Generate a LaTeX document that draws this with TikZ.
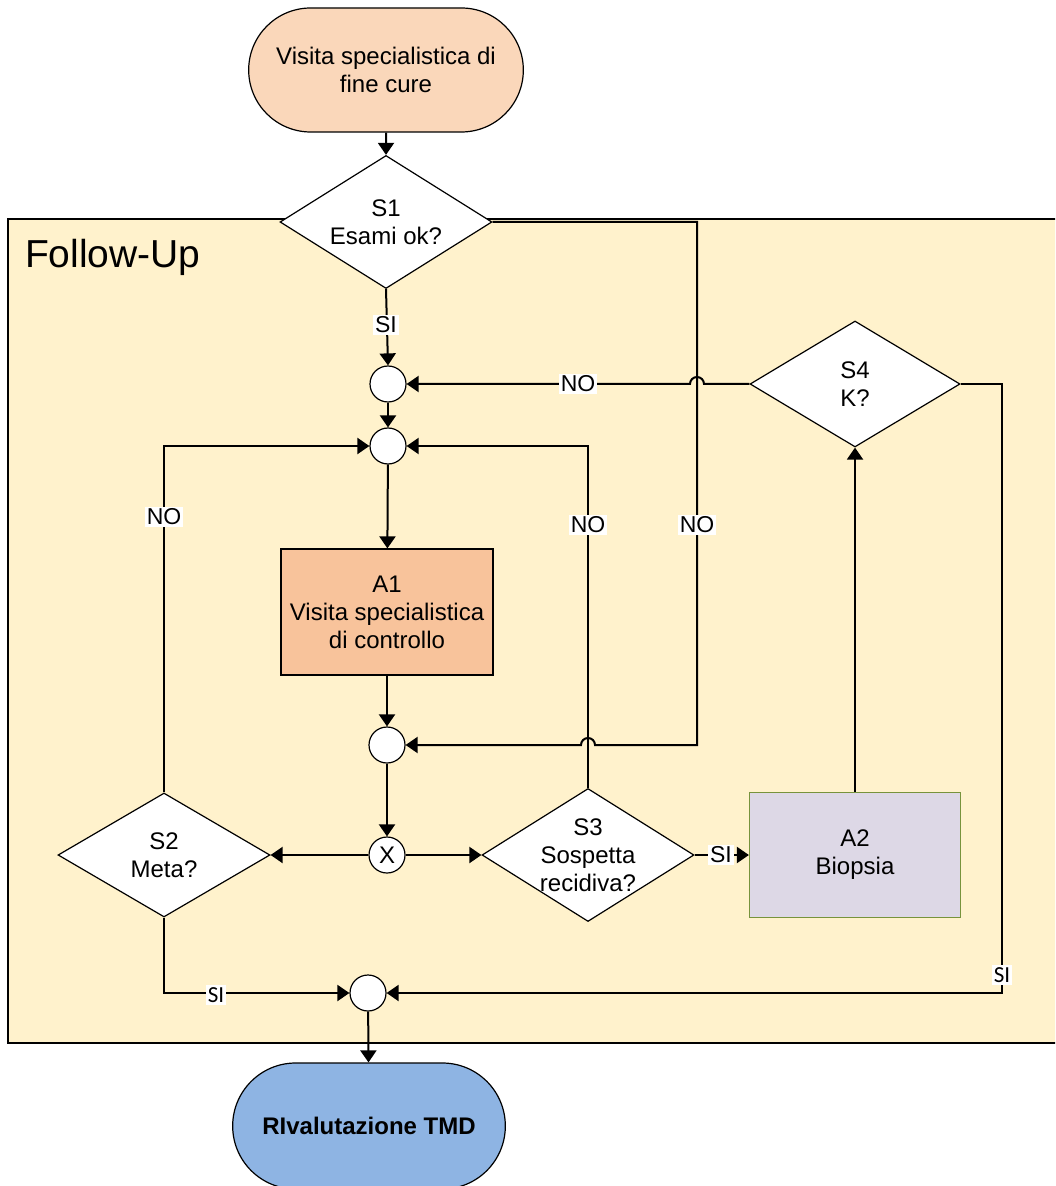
\documentclass[tikz,border=0pt]{standalone}
\usepackage{fontspec}
\setmainfont{Liberation Sans}
\newfontfamily\carlito{Carlito}
\usetikzlibrary{shapes.geometric}
\usetikzlibrary{shapes.misc}
\usetikzlibrary{arrows.meta}
\definecolor{startfill}{RGB}{250,215,186}
\definecolor{followup}{RGB}{255,242,204}
\definecolor{visitfill}{RGB}{248,195,155}
\definecolor{biopsyfill}{RGB}{221,216,230}
\definecolor{biopsyline}{RGB}{119,147,60}
\definecolor{endfill}{RGB}{142,180,227}
\tikzset{
  txt/.style={font=\fontsize{12}{14}\selectfont, align=center},
  terminal/.style={txt, rounded rectangle, draw, line width=0.6pt, minimum width=144pt, minimum height=62pt},
  decision/.style={txt, diamond, draw, fill=white, line width=0.6pt, inner sep=-3pt, minimum width=106pt, minimum height=63pt},
  process/.style={txt, rectangle, draw, line width=0.6pt, minimum width=106pt, minimum height=63pt},
  junction/.style={txt, circle, draw, fill=white, line width=0.6pt, minimum size=18pt, inner sep=0pt},
  yesno/.style={fill=white, inner sep=1pt, font=\fontsize{11.5}{13}\selectfont},
  flow/.style={line width=1pt, ->},
}

\begin{document}
\begin{tikzpicture}[x=0.5pt,y=-0.5pt,>={Triangle[length=6pt,width=8pt]}]
\useasboundingbox (0,0) rectangle (1055,1186);
\clip (0,0) rectangle (1055,1186);
% container
\draw[fill=followup, line width=1pt] (8,219) rectangle (1075,1043);
\node[anchor=west, font=\fontsize{19.5}{22}\selectfont] (fu) at (18,257) {Follow-Up};
% nodes
\node[terminal, fill=startfill] (start) at (386,70) {Visita specialistica di\\fine cure};
\node[decision, minimum height=62.5pt] (s1) at (386,222) {S1\\Esami ok?};
\node[junction] (c1) at (388,384) {};
\node[junction] (c2) at (388,446) {};
\node[decision, minimum width=105pt] (s4) at (855,384) {S4\\K?};
\node[process, fill=visitfill] (a1) at (387,612) {A1\\Visita specialistica\\di controllo};
\node[junction] (c3) at (387,745) {};
\node[junction] (x) at (387,855) {X};
\node[decision, minimum height=62pt] (s2) at (164,855) {S2\\Meta?};
\node[decision, minimum height=66.5pt, inner sep=-7pt] (s3) at (588,855) {S3\\Sospetta\\recidiva?};
\node[process, fill=biopsyfill, draw=biopsyline, minimum width=105.5pt, minimum height=62.5pt] (a2) at (855,855) {A2\\Biopsia};
\node[junction] (c5) at (368,993) {};
\node[terminal, fill=endfill, minimum width=143pt, minimum height=63pt, font=\fontsize{12}{14}\selectfont\bfseries] (end) at (369,1126) {RIvalutazione TMD};
% connectors
\draw[flow] (start) -- (s1);
\draw[flow] (s1.south) -- (c1.north);
\draw[flow] (s1.east) -| (697,745) -- (595,745) arc[start angle=0, end angle=180, radius=3.5pt] -- (c3.east);
\draw[flow] (s4.west) -- (704,384) arc[start angle=0, end angle=180, radius=3.5pt] -- (c1.east);
\draw[flow] (s4.east) -| (1002,993) -- (c5.east);
\draw[flow] (c1) -- (c2);
\draw[flow] (c2) -- (a1);
\draw[flow] (a1) -- (c3);
\draw[flow] (c3) -- (x);
\draw[flow] (x) -- (s2.east);
\draw[flow] (x) -- (s3.west);
\draw[flow] (s2.north) |- (c2.west);
\draw[flow] (s3.north) |- (c2.east);
\draw[flow] (s3.east) -- (a2.west);
\draw[flow] (a2.north) -- (s4.south);
\draw[flow] (s2.south) |- (c5.west);
\draw[flow] (c5) -- (end);
% labels
\node[yesno] (si1) at (386,325) {SI};
\node[yesno] (no4) at (578,384) {NO};
\node[yesno] (no2) at (164,517) {NO};
\node[yesno] (no3) at (588,525) {NO};
\node[yesno] (no1) at (697,525) {NO};
\node[yesno] (si3) at (721,855) {SI};
\node[yesno, font=\fontsize{11.5}{13}\carlito] (si2) at (216,995) {SI};
\node[yesno, font=\fontsize{11.5}{13}\carlito] (si4) at (1002,975) {SI};
\end{tikzpicture}
\end{document}
